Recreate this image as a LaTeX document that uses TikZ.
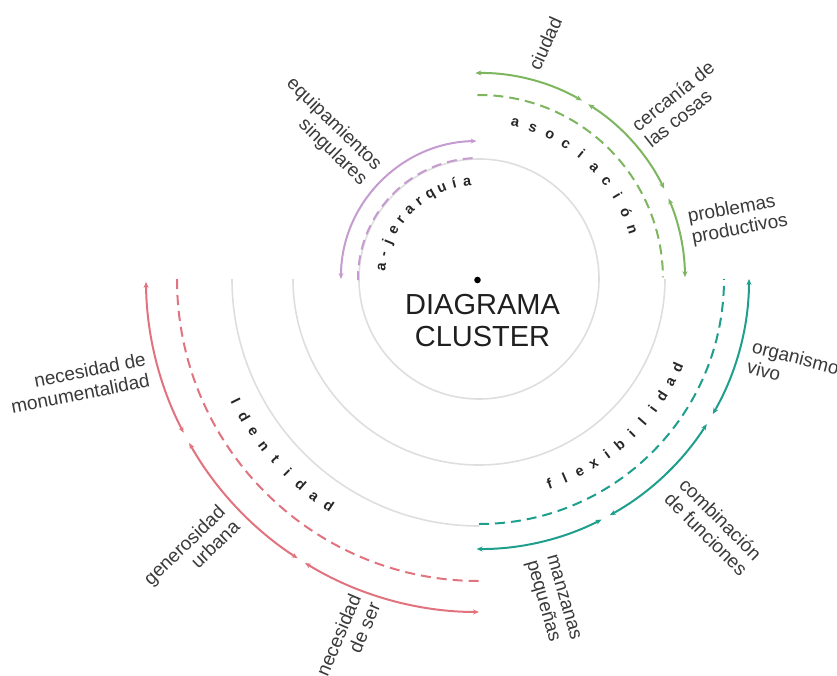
\documentclass[tikz,border=0pt]{standalone}
\usepackage{fontspec}
\setmainfont{Liberation Sans}
\usetikzlibrary{arrows.meta}
\definecolor{ringgray}{HTML}{DEDEDE}
\definecolor{cpurple}{HTML}{C59BD0}
\definecolor{cgreen}{HTML}{7DB65E}
\definecolor{cteal}{HTML}{1E9E8C}
\definecolor{cred}{HTML}{E1737F}
\definecolor{labelgray}{HTML}{3A3A3A}
\begin{document}
\begin{tikzpicture}[x=1pt,y=1pt,
  ring/.style={draw=ringgray, line width=1.6pt},
  solidarc/.style={line width=2pt, >={Stealth[length=6pt,width=5pt]}, <->},
  dasharc/.style={line width=2pt, dash pattern=on 10pt off 6pt},
  lbl/.style={font=\fontsize{19}{21}\selectfont, text=labelgray, inner sep=0pt},
  arcletter/.style={font=\fontsize{14.5}{16}\selectfont\bfseries, text=black!85, inner sep=0pt, anchor=base},
]
\useasboundingbox (-479,-396) rectangle (358,279);
\coordinate (O) at (0,0);

% gray rings
\draw[ring] (O) circle[radius=120pt];
\draw[ring] (180:186pt) arc[start angle=180, end angle=360, radius=186pt];
\draw[ring] (180:247pt) arc[start angle=180, end angle=270, radius=247pt];

% dashed arcs
\draw[cpurple, dasharc] (93:121pt) arc[start angle=93, end angle=180.5, radius=121pt];
\draw[cgreen, dasharc] (90.5:184pt) arc[start angle=90.5, end angle=0.5, radius=184pt];
\draw[cteal, dasharc] (-90:245pt) arc[start angle=-90, end angle=0, radius=245pt];
\draw[cred, dasharc] (180:302pt) arc[start angle=180, end angle=270, radius=302pt];

% solid arcs with arrows
\draw[cpurple, solidarc] (91:138pt) arc[start angle=91, end angle=180, radius=138pt];
\draw[cgreen, solidarc] (91:206pt) arc[start angle=91, end angle=60, radius=206pt];
\draw[cgreen, solidarc] (58:206pt) arc[start angle=58, end angle=26, radius=206pt];
\draw[cgreen, solidarc] (23:206pt) arc[start angle=23, end angle=0.5, radius=206pt];
\draw[cteal, solidarc] (0:270pt) arc[start angle=0, end angle=-30, radius=270pt];
\draw[cteal, solidarc] (-32.5:270pt) arc[start angle=-32.5, end angle=-61, radius=270pt];
\draw[cteal, solidarc] (-63:270pt) arc[start angle=-63, end angle=-90.5, radius=270pt];
\draw[cred, solidarc] (180.5:333pt) arc[start angle=180.5, end angle=207.5, radius=333pt];
\draw[cred, solidarc] (209.5:333pt) arc[start angle=209.5, end angle=237, radius=333pt];
\draw[cred, solidarc] (238.5:333pt) arc[start angle=238.5, end angle=270, radius=333pt];

% letter-spaced words along the rings
\foreach \ch [count=\i from 0] in {a,-,j,e,r,a,r,q,u,í,a} {
  \pgfmathsetmacro\ang{173-\i*7.6}
  \pgfmathsetmacro\rot{\ang-90}
  \node[arcletter, rotate=\rot] (jer\i) at (\ang:94pt) {\ch};
}
\foreach \ch [count=\i from 0] in {a,s,o,c,i,a,c,i,ó,n} {
  \pgfmathsetmacro\ang{77-\i*6.58}
  \pgfmathsetmacro\rot{\ang-90}
  \node[arcletter, rotate=\rot] (aso\i) at (\ang:156.5pt) {\ch};
}
\foreach \ch [count=\i from 0] in {f,l,e,x,i,b,i,l,i,d,a,d} {
  \pgfmathsetmacro\ang{-71+\i*4.2727}
  \pgfmathsetmacro\rot{\ang+90}
  \node[arcletter, rotate=\rot] (fle\i) at (\ang:222pt) {\ch};
}
\foreach \ch [count=\i from 0] in {I,d,e,n,t,i,d,a,d} {
  \pgfmathsetmacro\ang{206.6+\i*3.7375}
  \pgfmathsetmacro\rot{\ang+90}
  \node[arcletter, rotate=\rot] (ide\i) at (\ang:277pt) {\ch};
}

% centre
\fill[black] (-1.5,-1) circle[radius=3.3pt];
\node[font=\fontsize{29}{32}\selectfont, text=black!88, align=center, inner sep=0pt] (title) at (3.5,-42) {DIAGRAMA\\CLUSTER};

% outer labels
\node[lbl, anchor=east, align=right, rotate=-44] (equip) at (-108,104) {equipamientos\\singulares};
\node[lbl, anchor=center, rotate=66] (ciudad) at (66,235.5) {ciudad};
\node[lbl, anchor=west, align=left, rotate=38.7] (cerca) at (161.5,144) {cercanía de\\las cosas};
\node[lbl, anchor=west, align=left, rotate=10.8] (probl) at (211,50.5) {problemas\\productivos};
\node[lbl, anchor=west, align=left, rotate=-14.5] (organ) at (271,-77) {organismo\\vivo};
\node[lbl, anchor=west, align=left, rotate=-45] (combi) at (196.5,-209.5) {combinación\\de funciones};
\node[lbl, anchor=west, align=left, rotate=-74] (manz) at (61,-279.5) {manzanas\\pequeñas};
\node[lbl, anchor=east, align=right, rotate=11] (monum) at (-331.5,-90.5) {necesidad de\\monumentalidad};
\node[lbl, anchor=east, align=right, rotate=44] (gener) at (-250,-237) {generosidad\\urbana};
\node[lbl, anchor=east, align=right, rotate=67] (neces) at (-114,-320) {necesidad\\de ser};
\end{tikzpicture}
\end{document}
